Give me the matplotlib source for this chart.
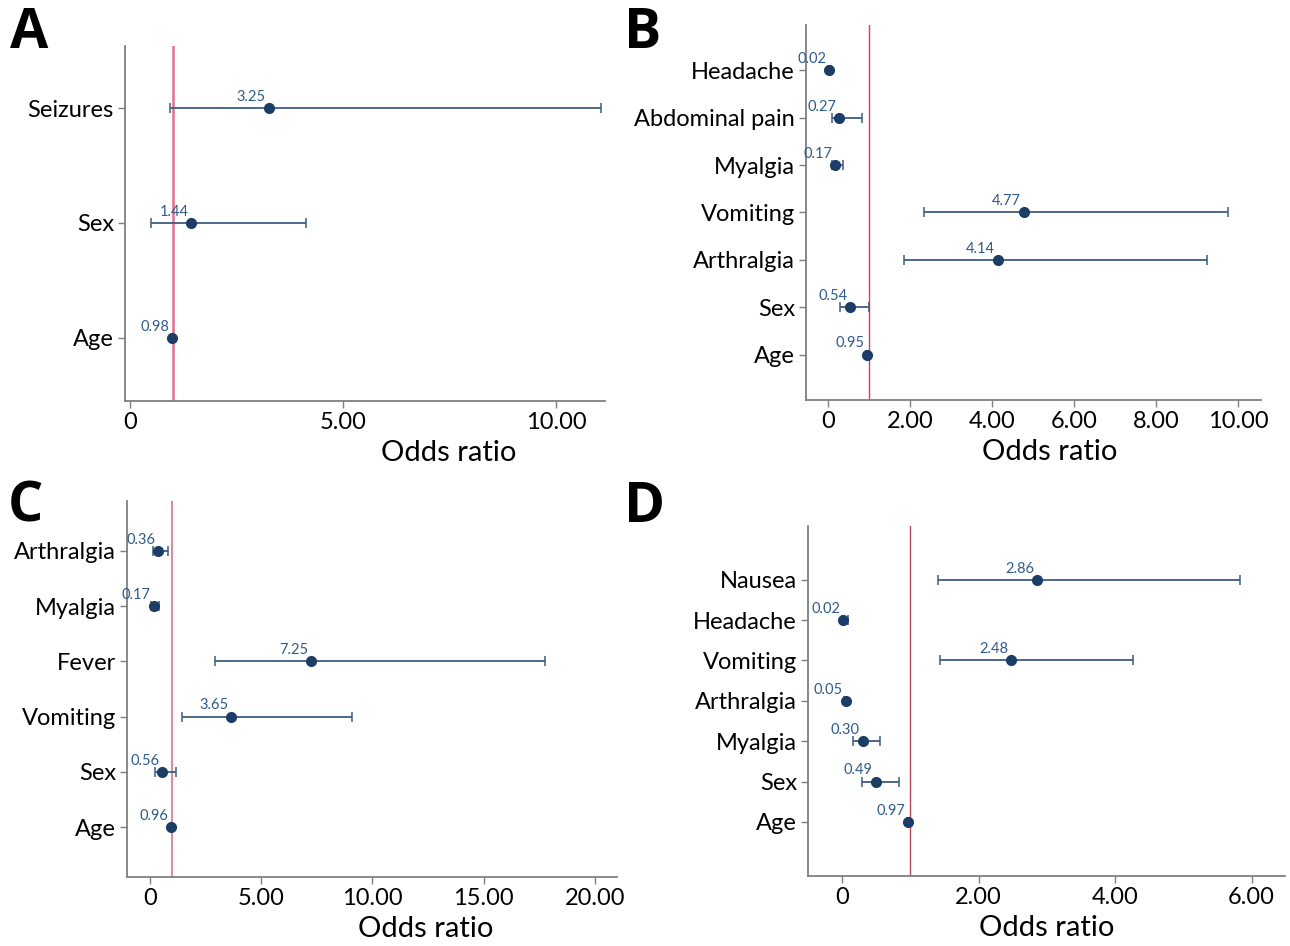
import matplotlib
matplotlib.use("Agg")
import matplotlib.pyplot as plt

plt.rcParams['font.family'] = ['Lato', 'DejaVu Sans']

# data, listed top to bottom as in the figure
a_labels = ["Seizures", "Sex", "Age"]
a_or = [3.25, 1.44, 0.98]
a_lo = [0.94, 0.50, 0.96]
a_hi = [11.05, 4.13, 1.00]
a_ticks = [0, 5, 10]

b_labels = ["Headache", "Abdominal pain", "Myalgia", "Vomiting", "Arthralgia", "Sex", "Age"]
b_or = [0.02, 0.27, 0.17, 4.77, 4.14, 0.54, 0.95]
b_lo = [0.00, 0.10, 0.10, 2.34, 1.86, 0.30, 0.93]
b_hi = [0.06, 0.83, 0.35, 9.74, 9.23, 0.99, 0.97]
b_ticks = [0, 2, 4, 6, 8, 10]

c_labels = ["Arthralgia", "Myalgia", "Fever", "Vomiting", "Sex", "Age"]
c_or = [0.36, 0.17, 7.25, 3.65, 0.56, 0.96]
c_lo = [0.15, 0.05, 2.92, 1.43, 0.25, 0.94]
c_hi = [0.80, 0.39, 17.78, 9.10, 1.16, 0.98]
c_ticks = [0, 5, 10, 15, 20]

d_labels = ["Nausea", "Headache", "Vomiting", "Arthralgia", "Myalgia", "Sex", "Age"]
d_or = [2.86, 0.02, 2.48, 0.05, 0.30, 0.49, 0.97]
d_lo = [1.41, 0.00, 1.44, 0.03, 0.16, 0.29, 0.95]
d_hi = [5.83, 0.09, 4.26, 0.07, 0.55, 0.83, 0.99]
d_ticks = [0, 2, 4, 6]

W, H = 1290, 946
fig = plt.figure(figsize=(W / 100, H / 100), dpi=100)

def px_axes(l, t, r, b):
    return fig.add_axes([l / W, 1 - b / H, (r - l) / W, (b - t) / H])

def forest(ax, labels, ors, lo, hi, ticks, xlim, ypad, ref_color, ref_lw, xlab_x):
    n = len(labels)
    ys = list(range(n, 0, -1))
    xerr = [[o - l for o, l in zip(ors, lo)], [h - o for o, h in zip(ors, hi)]]
    ax.axvline(1, color=ref_color, lw=ref_lw, zorder=1)
    ax.errorbar(ors, ys, xerr=xerr, fmt='o', color='#1b3d66', ecolor='#3d5d80',
                elinewidth=1.3, capsize=3.5, capthick=1.1, markersize=7, zorder=3)
    for o, y in zip(ors, ys):
        ax.annotate(f"{o:.2f}", (o, y), xytext=(-2, 3), textcoords='offset points',
                    ha='right', va='bottom', fontsize=10.5, color='#2f5b8a')
    ax.set_yticks(ys)
    ax.set_yticklabels(labels, fontsize=17)
    ax.set_ylim(1 - ypad[0], n + ypad[1])
    ax.set_xlim(*xlim)
    ax.set_xticks(ticks)
    ax.set_xticklabels(["0" if t == 0 else f"{t:.2f}" for t in ticks], fontsize=17)
    ax.set_xlabel("Odds ratio", fontsize=21)
    h_px = ax.get_position().height * H
    ax.xaxis.set_label_coords(xlab_x, -52 / h_px)
    ax.xaxis.label.set_va('center')
    for s in ['top', 'right']:
        ax.spines[s].set_visible(False)
    for s in ['left', 'bottom']:
        ax.spines[s].set_color('#7f7f7f')
        ax.spines[s].set_linewidth(1.3)
    ax.tick_params(axis='both', color='#7f7f7f', length=5, width=1, pad=3)

axA = px_axes(125, 46, 605, 401)
forest(axA, a_labels, a_or, a_lo, a_hi, a_ticks, (-0.12, 11.15), (0.55, 0.54),
       '#e07090', 1.8, 0.675)
axB = px_axes(806, 25, 1261, 400)
forest(axB, b_labels, b_or, b_lo, b_hi, b_ticks, (-0.54, 10.55), (0.96, 0.96),
       '#d0405a', 1.0, 0.535)
axC = px_axes(127, 501, 617, 877)
forest(axC, c_labels, c_or, c_lo, c_hi, c_ticks, (-1.03, 21.0), (0.9, 0.9),
       '#d8909f', 1.5, 0.61)
axD = px_axes(808, 526, 1285, 876)
forest(axD, d_labels, d_or, d_lo, d_hi, d_ticks, (-0.5, 6.49), (1.34, 1.33),
       '#b04a5a', 1.0, 0.5)

for lab, x, y in [("A", 10, 6), ("B", 624, 6), ("C", 8, 480), ("D", 624, 480)]:
    fig.text(x / W, 1 - y / H, lab, fontsize=40, fontweight='bold', va='top', ha='left',
             family=['Open Sans', 'DejaVu Sans'])

fig.savefig("out.png", dpi=100)
